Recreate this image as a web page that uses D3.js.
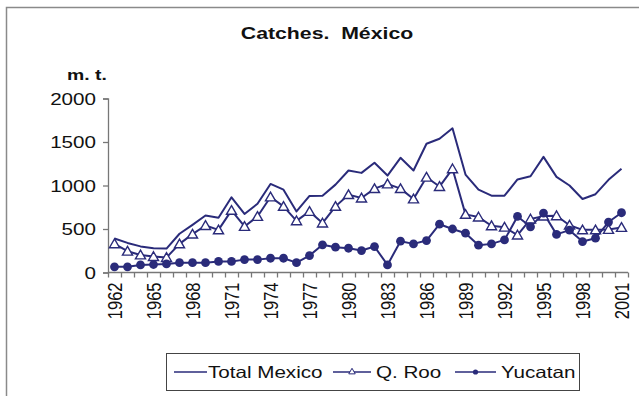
<!DOCTYPE html>
<html><head><meta charset="utf-8">
<script src="https://cdn.jsdelivr.net/npm/d3@7"></script>
<style>
body{margin:0;background:#fff}
svg{display:block}
text{font-family:"Liberation Sans",Arial,sans-serif;fill:#111}
</style>
</head><body>
<svg id="c" width="639" height="396"></svg>
<script>
const years = [1962,1963,1964,1965,1966,1967,1968,1969,1970,1971,1972,1973,1974,1975,1976,1977,1978,1979,1980,1981,
               1982,1983,1984,1985,1986,1987,1988,1989,1990,1991,1992,1993,1994,1995,1996,1997,1998,1999,2000,2001];
const totalMexico = [390,340,300,280,275,445,548,655,630,864,673,790,1018,952,702,880,883,1010,1172,1145,
                     1261,1114,1318,1172,1480,1538,1657,1126,952,883,883,1070,1106,1329,1099,1000,845,900,1065,1192];
const qRoo = [330,245,202,183,172,329,441,540,490,714,529,644,868,760,594,702,568,760,895,856,
              964,1018,964,845,1095,988,1192,668,637,537,520,430,614,648,652,543,490,490,495,518];
const yucatan = [65,65,87,92,98,113,113,113,127,127,148,148,164,164,113,194,318,291,279,252,
                 298,87,360,329,367,555,500,452,314,329,375,644,525,683,438,487,356,394,580,687];
const xTickLabels = ["1962","1965","1968","1971","1974","1977","1980","1983","1986","1989","1992","1995","1998","2001"];
const yTicks = [0,500,1000,1500,2000];
const seriesNames = ["Total Mexico","Q. Roo","Yucatan"];

const SX = 1.25;
const navy = "#2a2b7a";
const FONT = "'Liberation Sans',Arial,sans-serif";
const svg = d3.select("#c");

// outer frame
svg.append("rect").attr("x",6.5).attr("y",7.5).attr("width",700).attr("height",500)
  .attr("fill","none").attr("stroke","#8a8a8a").attr("stroke-width",1.5);

const x = d3.scaleBand().domain(years).range([108,628]);
const y = d3.scaleLinear().domain([0,2000]).range([272.5,98.5]);
const cx = d => x(d) + x.bandwidth()/2;

function stretchText(sel, x0, y0, anchor){
  sel.attr("transform",`translate(${x0},${y0}) scale(${SX},1)`).attr("text-anchor",anchor||"start");
  return sel;
}

// title
stretchText(svg.append("text").text("Catches.  México").attr("font-weight","bold").attr("font-size",17)
  .style("white-space","pre"), 327, 39, "middle");
// unit
stretchText(svg.append("text").text("m. t.").attr("font-weight","bold").attr("font-size",15.5), 67, 80, "start");

// y axis
const yAxis = svg.append("g").attr("transform","translate(108,0)")
  .call(d3.axisLeft(y).tickValues(yTicks).tickFormat(d3.format("d")).tickSize(5).tickPadding(6));
yAxis.select(".domain").attr("stroke","#777").attr("stroke-width",1.3);
yAxis.selectAll(".tick line").attr("stroke","#777").attr("stroke-width",1.3);
yAxis.selectAll(".tick text").attr("font-size",16.5).attr("fill","#111")
  .attr("x",-12/SX).attr("dy","0.36em").attr("transform",`scale(${SX},1)`)
  .style("font-family",FONT);

// x axis: boundary ticks
const xb = d3.scaleLinear().domain([0,years.length]).range(x.range());
const xTicksAxis = svg.append("g").attr("transform","translate(0,272.5)")
  .call(d3.axisBottom(xb).ticks(years.length).tickSize(5).tickFormat(""));
xTicksAxis.select(".domain").attr("stroke","#777").attr("stroke-width",1.3).attr("d",`M108,0H628`);
xTicksAxis.selectAll(".tick line").attr("stroke","#777").attr("stroke-width",1.3);

// x labels
const xl = svg.append("g").attr("transform","translate(0,272.5)")
  .call(d3.axisBottom(x).tickValues(xTickLabels.map(Number)).tickSize(0).tickPadding(0));
xl.select(".domain").remove();
xl.selectAll(".tick text").attr("font-size",16.5).attr("fill","#111")
  .style("font-family",FONT)
  .attr("text-anchor","end").attr("transform",`scale(${SX},1) rotate(-90)`)
  .attr("x",-10).attr("y",0).attr("dy","0.36em");

// lines
const line = d3.line().x((d,i)=>cx(years[i])).y(d=>y(d));
[totalMexico,qRoo,yucatan].forEach(s=>{
  svg.append("path").datum(s).attr("d",line).attr("fill","none")
    .attr("stroke",navy).attr("stroke-width",2).attr("stroke-linejoin","round");
});
const tri = d3.symbol().type(d3.symbolTriangle).size(44);
svg.append("g").selectAll("path").data(qRoo).join("path")
  .attr("d",tri).attr("transform",(d,i)=>`translate(${cx(years[i])},${y(d)+1})`)
  .attr("fill","#fff").attr("stroke",navy).attr("stroke-width",1.4);
svg.append("g").selectAll("circle").data(yucatan).join("circle")
  .attr("cx",(d,i)=>cx(years[i])).attr("cy",d=>y(d)).attr("r",4.4).attr("fill",navy);

// legend
const lg = svg.append("g");
lg.append("rect").attr("x",166.5).attr("y",353.5).attr("width",413).attr("height",37)
  .attr("fill","#fff").attr("stroke","#444").attr("stroke-width",1);
const ly = 372;
const items = [
  {name:seriesNames[0], x1:174, x2:207, tx:208, m:null},
  {name:seriesNames[1], x1:333, x2:371, tx:376, m:"tri"},
  {name:seriesNames[2], x1:455, x2:496, tx:501, m:"dot"}
];
items.forEach(it=>{
  lg.append("line").attr("x1",it.x1).attr("x2",it.x2).attr("y1",ly).attr("y2",ly)
    .attr("stroke",navy).attr("stroke-width",1.5);
  const mx=(it.x1+it.x2)/2;
  if(it.m==="tri") lg.append("path").attr("d",d3.symbol().type(d3.symbolTriangle).size(18))
    .attr("transform",`translate(${mx},${ly})`).attr("fill","#fff").attr("stroke",navy).attr("stroke-width",1);
  if(it.m==="dot") lg.append("circle").attr("cx",mx).attr("cy",ly).attr("r",2.6).attr("fill",navy);
  stretchText(lg.append("text").text(it.name).attr("font-size",16.5).attr("dy","0.36em"), it.tx, ly, "start");
});
</script>
</body></html>
